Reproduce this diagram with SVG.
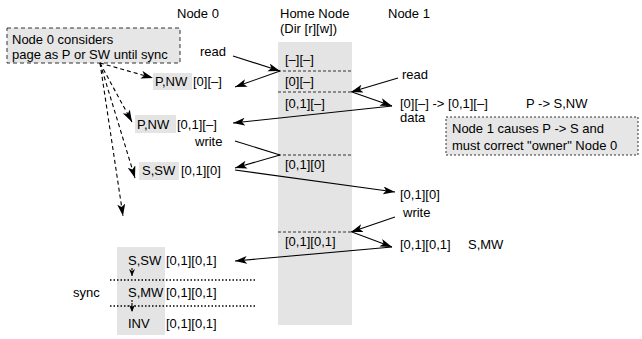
<svg xmlns="http://www.w3.org/2000/svg" width="642" height="339" viewBox="0 0 642 339">
<style>
text{font-family:"Liberation Sans",Arial,sans-serif;font-size:13px;fill:#000}
.gray{fill:#e4e4e4}
.div{stroke:#333;stroke-width:1;stroke-dasharray:3,2;fill:none}
.sync{stroke:#000;stroke-width:1.5;stroke-dasharray:1.5,2;fill:none}
.msg{stroke:#000;stroke-width:1.1;fill:none}
.dmsg{stroke:#000;stroke-width:1.1;fill:none;stroke-dasharray:4,3}
.note{fill:#e6e6e6;stroke:#333;stroke-width:1;stroke-dasharray:4,3}
</style>
<defs>
<marker id="ah" markerUnits="userSpaceOnUse" markerWidth="13" markerHeight="9" refX="12" refY="4" orient="auto">
<path d="M0,0 L12,4 L0,8 L3,4 z" fill="#000"/>
</marker>
<marker id="sah" markerUnits="userSpaceOnUse" markerWidth="8" markerHeight="8" refX="7" refY="3" orient="auto">
<path d="M0,0 L7,3 L0,6 L2,3 z" fill="#000"/>
</marker>
</defs>

<g id="headers">
<text x="177" y="18">Node 0</text>
<text x="280" y="18">Home Node</text>
<text x="280" y="33">(Dir [r][w])</text>
<text x="388" y="18">Node 1</text>
</g>

<g id="home-node">
<rect class="gray" x="278" y="42" width="74" height="283"/>
<line class="div" x1="278" y1="71" x2="352" y2="71"/>
<line class="div" x1="278" y1="92" x2="352" y2="92"/>
<line class="div" x1="278" y1="155" x2="352" y2="155"/>
<line class="div" x1="278" y1="232" x2="352" y2="232"/>
<text x="285" y="64">[–][–]</text>
<text x="285" y="86">[0][–]</text>
<text x="285" y="108">[0,1][–]</text>
<text x="285" y="169">[0,1][0]</text>
<text x="285" y="246">[0,1][0,1]</text>
</g>

<g id="note0">
<rect class="note" x="7" y="28" width="173" height="35"/>
<text x="12" y="44">Node 0 considers</text>
<text x="12" y="59">page as P or SW until sync</text>
</g>

<g id="node0-state1">
<rect class="gray" x="153" y="73" width="39" height="17"/>
<text x="155" y="86">P,NW</text>
<text x="193" y="86">[0][–]</text>
</g>

<g id="node0-state2">
<rect class="gray" x="135" y="115" width="41" height="18"/>
<text x="137" y="129">P,NW</text>
<text x="177" y="129">[0,1][–]</text>
</g>

<g id="node0-state3">
<rect class="gray" x="139" y="162" width="40" height="18"/>
<text x="142" y="175">S,SW</text>
<text x="181" y="175">[0,1][0]</text>
</g>

<g id="node0-sync">
<rect class="gray" x="117" y="247" width="48" height="88"/>
<text x="128" y="265">S,SW</text>
<text x="166" y="265">[0,1][0,1]</text>
<text x="73" y="297">sync</text>
<text x="128" y="297">S,MW</text>
<text x="166" y="297">[0,1][0,1]</text>
<text x="128" y="328">INV</text>
<text x="166" y="328">[0,1][0,1]</text>
<line class="sync" x1="110" y1="280" x2="255" y2="280"/>
<line class="sync" x1="110" y1="306" x2="255" y2="306"/>
</g>

<g id="labels">
<text x="200" y="56">read</text>
<text x="402" y="79">read</text>
<text x="400" y="108">[0][–] -&gt; [0,1][–]</text>
<text x="400" y="122">data</text>
<text x="526" y="108">P -&gt; S,NW</text>
<text x="195" y="146">write</text>
<text x="400" y="199">[0,1][0]</text>
<text x="403" y="217">write</text>
<text x="400" y="249">[0,1][0,1]</text>
<text x="468" y="249">S,MW</text>
</g>

<g id="note1">
<rect class="note" x="446" y="117" width="192" height="38" style="stroke-dasharray:2,2"/>
<text x="452" y="133">Node 1 causes P -&gt; S and</text>
<text x="452" y="150">must correct "owner" Node 0</text>
</g>

<g id="connectors">
<line class="msg" x1="233" y1="56" x2="280" y2="71" marker-end="url(#ah)"/>
<line class="msg" x1="280" y1="71" x2="235" y2="87" marker-end="url(#ah)"/>
<line class="msg" x1="398" y1="78" x2="351" y2="92" marker-end="url(#ah)"/>
<line class="msg" x1="352" y1="92" x2="392" y2="106" marker-end="url(#ah)"/>
<line class="msg" x1="392" y1="106" x2="233" y2="123" marker-end="url(#ah)"/>
<line class="msg" x1="235" y1="141" x2="280" y2="155"/>
<line class="msg" x1="280" y1="155" x2="235" y2="168" marker-end="url(#ah)"/>
<line class="msg" x1="235" y1="170" x2="395" y2="192" marker-end="url(#ah)"/>
<line class="msg" x1="395" y1="217" x2="351" y2="232" marker-end="url(#ah)"/>
<line class="msg" x1="352" y1="232" x2="392" y2="247" marker-end="url(#ah)"/>
<line class="msg" x1="392" y1="247" x2="235" y2="261" marker-end="url(#ah)"/>
<line class="dmsg" x1="100" y1="63" x2="153" y2="78" marker-end="url(#ah)"/>
<line class="dmsg" x1="100" y1="63" x2="132" y2="122" marker-end="url(#ah)"/>
<line class="dmsg" x1="100" y1="63" x2="135" y2="178" marker-end="url(#ah)"/>
<line class="dmsg" x1="100" y1="63" x2="123" y2="216" marker-end="url(#ah)"/>
<line class="msg" x1="132" y1="268" x2="132" y2="276" style="stroke-dasharray:2,1" marker-end="url(#sah)"/>
<line class="msg" x1="132" y1="300" x2="132" y2="312" style="stroke-dasharray:2,1" marker-end="url(#sah)"/>
</g>
</svg>
